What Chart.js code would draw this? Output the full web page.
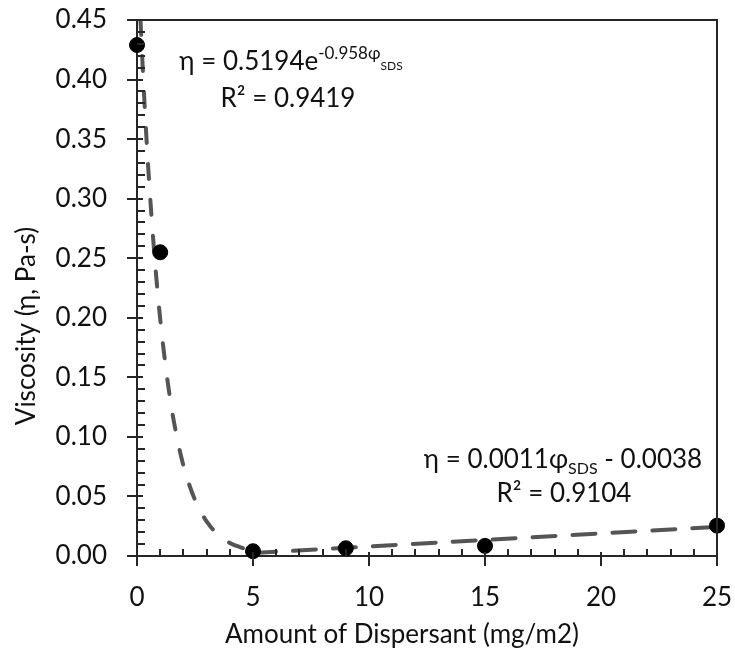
<!DOCTYPE html>
<html>
<head>
<meta charset="utf-8">
<script src="https://cdn.jsdelivr.net/npm/chart.js@4/dist/chart.umd.min.js"></script>
<style>
  html, body { margin: 0; padding: 0; background: #fff; }
  #c { display: block; }
</style>
</head>
<body>
<canvas id="c" width="735" height="649"></canvas>
<script>
// ---- Data ----
const dispersant = [0, 1, 5, 9, 15, 25];                 // mg/m2
const viscosity  = [0.429, 0.255, 0.004, 0.0065, 0.0085, 0.0255]; // Pa-s

// Exponential trendline
const expFitX = [0.15, 0.3, 0.5, 0.75, 1.0, 1.25, 1.5, 1.75, 2.0, 2.5, 3.0, 3.5, 4.0, 4.5, 5.0];
const expFitY = [0.450, 0.389, 0.321, 0.253, 0.199, 0.157, 0.123, 0.097, 0.076, 0.047, 0.029, 0.018, 0.011, 0.007, 0.004];

// Linear trendline
const linFitX = [5, 25];
const linFitY = [0.0025, 0.0245];

const xTicks = [0, 5, 10, 15, 20, 25];
const yTicks = [0.00, 0.05, 0.10, 0.15, 0.20, 0.25, 0.30, 0.35, 0.40, 0.45];

const xTitle = 'Amount of Dispersant (mg/m2)';
const yTitle = 'Viscosity (η, Pa-s)';

const FONT = "Lato, 'Noto Sans', 'DejaVu Sans', sans-serif";
const TEXT = '#111111';
const AXIS = '#262626';

const toPts = (xs, ys) => xs.map((x, i) => ({ x: x, y: ys[i] }));

const decorPlugin = {
  id: 'decor',
  afterDraw(chart) {
    const ctx = chart.ctx;
    const a = chart.chartArea;
    const xs = chart.scales.x, ys = chart.scales.y;
    ctx.save();
    ctx.strokeStyle = AXIS;
    ctx.lineWidth = 2;
    // top and right frame
    ctx.beginPath();
    ctx.moveTo(a.left, a.top);
    ctx.lineTo(a.right, a.top);
    ctx.lineTo(a.right, a.bottom);
    ctx.stroke();
    // y ticks
    ctx.beginPath();
    for (let i = 0; i <= 45; i++) {
      const py = Math.round(ys.getPixelForValue(i / 100));
      if (i % 5 === 0) { ctx.moveTo(a.left - 10, py); ctx.lineTo(a.left + 6, py); }
      else { ctx.moveTo(a.left, py); ctx.lineTo(a.left + 8, py); }
    }
    // x ticks
    for (let i = 0; i <= 25; i++) {
      const px = Math.round(xs.getPixelForValue(i));
      if (i % 5 === 0) { ctx.moveTo(px, a.bottom + 10); ctx.lineTo(px, a.bottom - 4); }
      else { ctx.moveTo(px, a.bottom); ctx.lineTo(px, a.bottom - 7); }
    }
    ctx.stroke();

    ctx.fillStyle = TEXT;
    // axis titles
    ctx.font = '26px ' + FONT;
    ctx.textAlign = 'center';
    ctx.textBaseline = 'alphabetic';
    ctx.fillText(xTitle, 402, 643);
    ctx.save();
    ctx.translate(35, 326);
    ctx.rotate(-Math.PI / 2);
    ctx.fillText(yTitle, 0, 0);
    ctx.restore();

    // equation annotations
    const drawRuns = (runs, cx, base) => {
      ctx.textAlign = 'left';
      let total = 0;
      runs.forEach(r => { ctx.font = r.s + 'px ' + FONT; r.w = ctx.measureText(r.t).width; total += r.w; });
      let x = cx - total / 2;
      runs.forEach(r => { ctx.font = r.s + 'px ' + FONT; ctx.fillText(r.t, x, base + (r.dy || 0)); x += r.w; });
    };
    drawRuns([{ t: 'η = 0.5194e', s: 26 }, { t: '-0.958φ', s: 17, dy: -11 }, { t: 'SDS', s: 12, dy: 0 }], 291, 70);
    drawRuns([{ t: 'R² = 0.9419', s: 26 }], 288, 107);
    drawRuns([{ t: 'η = 0.0011φ', s: 26 }, { t: 'SDS', s: 16, dy: 6 }, { t: ' - 0.0038', s: 26 }], 563, 468);
    drawRuns([{ t: 'R² = 0.9104', s: 26 }], 564, 502);
    ctx.restore();
  }
};

new Chart(document.getElementById('c'), {
  type: 'scatter',
  data: {
    datasets: [
      {
        label: 'Measured',
        data: toPts(dispersant, viscosity),
        pointRadius: 7.5,
        pointBackgroundColor: '#000',
        pointBorderColor: '#000',
        showLine: false,
        clip: false,
        order: 0
      },
      {
        label: 'Exponential fit',
        data: toPts(expFitX, expFitY),
        showLine: true,
        pointRadius: 0,
        borderColor: '#555555',
        borderWidth: 4,
        borderDash: [15, 21],
        borderCapStyle: 'round',
        cubicInterpolationMode: 'monotone',
        order: 1
      },
      {
        label: 'Linear fit',
        data: toPts(linFitX, linFitY),
        showLine: true,
        pointRadius: 0,
        borderColor: '#555555',
        borderWidth: 4,
        borderDash: [23, 17],
        borderCapStyle: 'round',
        order: 2
      }
    ]
  },
  options: {
    responsive: false,
    animation: false,
    devicePixelRatio: 1,
    layout: { padding: { left: 0, right: 18, top: 20, bottom: 0 } },
    plugins: { legend: { display: false }, tooltip: { enabled: false } },
    scales: {
      x: {
        type: 'linear', min: 0, max: 25,
        afterBuildTicks: s => { s.ticks = xTicks.map(v => ({ value: v })); },
        afterFit: s => { s.height = 93; s.paddingLeft = 0; s.paddingRight = 0; },
        ticks: { font: { family: FONT, size: 26 }, color: TEXT, padding: 26, maxRotation: 0 },
        grid: { display: false, drawTicks: false },
        border: { display: true, color: AXIS, width: 2 }
      },
      y: {
        type: 'linear', min: 0, max: 0.45,
        afterBuildTicks: s => { s.ticks = yTicks.map(v => ({ value: v })); },
        afterFit: s => { s.width = 137; s.paddingTop = 0; s.paddingBottom = 0; },
        ticks: { font: { family: FONT, size: 26 }, color: TEXT, padding: 30, callback: v => Number(v).toFixed(2) },
        grid: { display: false, drawTicks: false },
        border: { display: true, color: AXIS, width: 2 }
      }
    }
  },
  plugins: [decorPlugin]
});
</script>
</body>
</html>
